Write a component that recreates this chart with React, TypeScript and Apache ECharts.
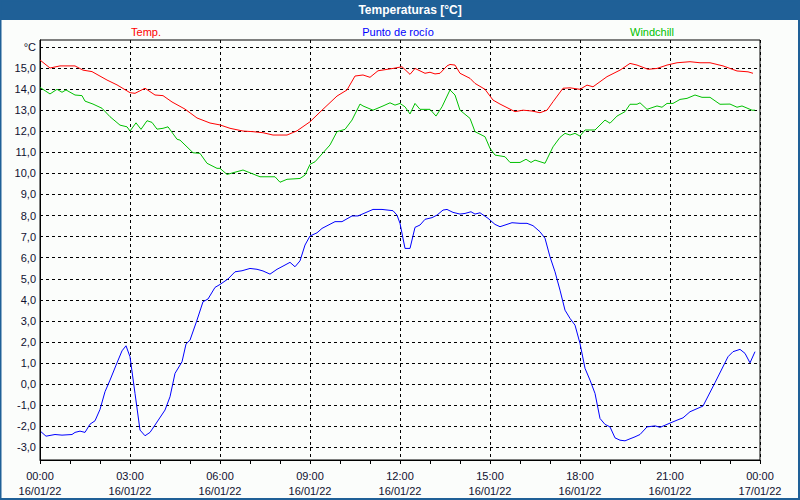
import React, { useEffect, useRef } from "react";
import * as echarts from "echarts";

// Minutes since 16/01/22 00:00 and values (°C)
const tempMinutes = [0, 20, 40, 70, 86, 104, 134, 154, 180, 190, 210, 230, 246, 264, 290, 314, 340, 360, 380, 406, 426, 446, 466, 494, 514, 540, 564, 594, 614, 630, 646, 660, 676, 706, 724, 740, 750, 770, 780, 790, 800, 814, 820, 830, 840, 860, 870, 890, 906, 920, 950, 966, 984, 1000, 1014, 1026, 1046, 1060, 1080, 1094, 1106, 1134, 1160, 1180, 1194, 1216, 1234, 1254, 1274, 1300, 1320, 1340, 1366, 1394, 1416, 1426];
const tempValues = [15.38, 15.0, 15.1, 15.1, 14.9, 14.83, 14.43, 14.2, 13.83, 13.8, 14.04, 13.72, 13.69, 13.39, 13.05, 12.63, 12.39, 12.3, 12.14, 12.01, 11.98, 11.93, 11.82, 11.82, 12.02, 12.45, 13.0, 13.67, 13.96, 14.62, 14.67, 14.56, 14.87, 14.98, 15.06, 14.7, 14.98, 14.75, 14.8, 14.72, 14.75, 15.1, 15.17, 15.14, 14.75, 14.51, 14.27, 13.99, 13.48, 13.29, 12.93, 13.0, 12.96, 12.88, 13.0, 13.4, 14.04, 14.06, 13.99, 14.19, 14.11, 14.59, 14.9, 15.22, 15.14, 14.94, 14.98, 15.14, 15.25, 15.3, 15.25, 15.25, 15.1, 14.86, 14.82, 14.75];

const chillMinutes = [0, 20, 34, 44, 52, 70, 84, 90, 106, 124, 140, 160, 174, 180, 192, 202, 214, 224, 234, 246, 256, 274, 280, 306, 320, 334, 354, 360, 374, 386, 406, 440, 470, 480, 494, 520, 530, 540, 550, 580, 594, 610, 624, 640, 646, 666, 686, 700, 710, 720, 730, 740, 750, 760, 780, 792, 804, 820, 830, 840, 860, 870, 890, 900, 910, 930, 940, 960, 972, 982, 990, 1010, 1026, 1040, 1050, 1060, 1070, 1080, 1090, 1110, 1130, 1140, 1154, 1170, 1180, 1194, 1200, 1214, 1234, 1244, 1254, 1266, 1280, 1294, 1310, 1324, 1340, 1360, 1380, 1394, 1404, 1424, 1430];
const chillValues = [14.08, 13.77, 13.99, 13.85, 13.96, 13.72, 13.69, 13.43, 13.29, 13.09, 12.69, 12.29, 12.21, 12.01, 12.4, 12.09, 12.5, 12.42, 12.1, 12.14, 12.21, 11.62, 11.58, 10.98, 10.95, 10.48, 10.24, 10.24, 9.95, 10.03, 10.16, 9.84, 9.84, 9.58, 9.72, 9.76, 9.92, 10.43, 10.55, 11.35, 11.98, 12.09, 12.53, 13.29, 13.2, 13.0, 13.2, 13.35, 13.24, 13.32, 13.16, 12.82, 13.32, 13.04, 13.04, 12.72, 13.16, 13.96, 13.72, 13.0, 12.61, 11.98, 11.74, 11.19, 10.87, 10.79, 10.52, 10.52, 10.67, 10.52, 10.63, 10.48, 11.26, 11.71, 11.9, 11.82, 11.9, 11.77, 12.06, 12.06, 12.53, 12.38, 12.72, 12.93, 13.28, 13.28, 13.35, 13.04, 13.2, 13.14, 13.32, 13.32, 13.51, 13.56, 13.72, 13.61, 13.61, 13.28, 13.29, 13.14, 13.2, 13.0, 13.0];

const dewMinutes = [2, 12, 30, 44, 64, 70, 80, 90, 100, 110, 120, 130, 140, 154, 164, 172, 180, 190, 200, 210, 220, 230, 250, 260, 270, 284, 292, 300, 314, 326, 336, 350, 360, 376, 390, 404, 420, 434, 446, 460, 474, 486, 500, 510, 520, 530, 540, 554, 564, 590, 604, 624, 636, 666, 684, 706, 714, 720, 730, 740, 750, 760, 770, 784, 794, 806, 814, 826, 840, 850, 862, 870, 880, 896, 910, 920, 944, 960, 974, 986, 1000, 1010, 1020, 1030, 1040, 1050, 1060, 1070, 1080, 1090, 1100, 1110, 1120, 1130, 1140, 1150, 1160, 1170, 1190, 1200, 1214, 1230, 1240, 1254, 1274, 1286, 1300, 1326, 1350, 1376, 1386, 1400, 1410, 1420, 1430];
const dewValues = [-2.26, -2.47, -2.39, -2.42, -2.39, -2.29, -2.23, -2.29, -1.9, -1.74, -1.2, -0.36, 0.19, 1.01, 1.58, 1.82, 1.3, -0.44, -2.18, -2.45, -2.29, -1.94, -1.23, -0.6, 0.51, 1.06, 1.9, 2.09, 3.04, 3.91, 4.04, 4.59, 4.73, 4.99, 5.33, 5.38, 5.49, 5.45, 5.37, 5.22, 5.45, 5.6, 5.78, 5.57, 5.85, 6.6, 7.03, 7.18, 7.39, 7.71, 7.71, 7.98, 7.98, 8.29, 8.29, 8.23, 8.02, 7.63, 6.44, 6.44, 7.44, 7.55, 7.82, 7.9, 8.02, 8.26, 8.29, 8.15, 8.07, 8.1, 8.18, 8.07, 8.13, 7.87, 7.58, 7.47, 7.66, 7.63, 7.63, 7.52, 7.23, 6.92, 6.04, 5.33, 4.46, 3.51, 3.12, 2.8, 1.93, 0.75, 0.19, -0.44, -1.63, -1.91, -2.03, -2.55, -2.66, -2.69, -2.5, -2.39, -2.03, -1.98, -2.05, -1.91, -1.71, -1.6, -1.31, -1.04, 0.07, 1.3, 1.54, 1.65, 1.46, 1.01, 1.54];

const yTicks = [-3, -2, -1, 0, 1, 2, 3, 4, 5, 6, 7, 8, 9, 10, 11, 12, 13, 14, 15, 16];
const seriesNames = ["Temp.", "Punto de rocío", "Windchill"];
const seriesColors = ["#ff0000", "#0000ff", "#00c000"];
const titleText = "Temperaturas [°C]";

const pad = (n: number) => (n < 10 ? "0" + n : "" + n);

export default function App() {
  const ref = useRef<HTMLDivElement>(null);
  useEffect(() => {
    if (!ref.current) return;
    const chart = echarts.init(ref.current, undefined, { renderer: "svg" });
    const font = "Liberation Sans";
    const zip = (t: number[], v: number[]) => t.map((m, i) => [m, v[i]]);
    chart.setOption({
      animation: false,
      backgroundColor: "#fbfdfb",
      textStyle: { fontFamily: font },
      grid: {
        left: 40,
        right: 40,
        top: 40,
        bottom: 40,
        show: true,
        borderColor: "#000",
        borderWidth: 1,
        backgroundColor: "transparent",
      },
      graphic: [
        {
          type: "rect",
          shape: { x: 0, y: 0, width: 800, height: 20 },
          style: { fill: "#1f6097" },
          silent: true,
        },
        {
          type: "rect",
          shape: { x: 0.5, y: 0.5, width: 798.5, height: 498.5 },
          style: { fill: "none", stroke: "#1f6097", lineWidth: 2 },
          silent: true,
        },
        {
          type: "text",
          x: 410,
          y: 10,
          style: {
            text: titleText,
            fill: "#ffffff",
            font: `bold 12px "${font}"`,
            textAlign: "center",
            textVerticalAlign: "middle",
          },
        },
        ...seriesNames.map((name, i) => ({
          type: "text",
          x: [146, 398, 652][i],
          y: 32,
          style: {
            text: name,
            fill: seriesColors[i],
            font: `11px "${font}"`,
            textAlign: "center",
            textVerticalAlign: "middle",
          },
        })),
      ],
      xAxis: {
        type: "value",
        min: 0,
        max: 1440,
        interval: 180,
        axisLine: { show: true, onZero: false, lineStyle: { color: "#000", width: 1 } },
        axisTick: { show: true, length: 4, lineStyle: { color: "#000" } },
        minorTick: { show: true, splitNumber: 3, length: 4, lineStyle: { color: "#000" } },
        splitLine: { show: true, lineStyle: { color: "#000", type: [3, 3], width: 1 } },
        axisLabel: {
          color: "#101030",
          fontSize: 11,
          fontFamily: font,
          lineHeight: 15,
          margin: 8,
          formatter: (v: number) => {
            const h = Math.floor(v / 60) % 24;
            const m = v % 60;
            const day = v >= 1440 ? 17 : 16;
            return `${pad(h)}:${pad(m)}\n${day}/01/22`;
          },
        },
      },
      yAxis: {
        type: "value",
        min: -3.6,
        max: 16.33,
        axisLine: { show: true, onZero: false, lineStyle: { color: "#000", width: 1 } },
        axisTick: { show: false, customValues: yTicks },
        splitLine: { show: true, lineStyle: { color: "#000", type: [3, 3], width: 1 } },
        axisLabel: {
          customValues: yTicks,
          color: "#101030",
          fontSize: 11,
          fontFamily: font,
          margin: 4,
          formatter: (v: number) => (Math.round(v) === 16 ? "°C" : v.toFixed(1).replace(".", ",")),
        },
      },
      series: [
        {
          name: seriesNames[2],
          type: "line",
          data: zip(chillMinutes, chillValues),
          showSymbol: false,
          lineStyle: { color: seriesColors[2], width: 1 },
          itemStyle: { color: seriesColors[2] },
        },
        {
          name: seriesNames[0],
          type: "line",
          data: zip(tempMinutes, tempValues),
          showSymbol: false,
          lineStyle: { color: seriesColors[0], width: 1 },
          itemStyle: { color: seriesColors[0] },
        },
        {
          name: seriesNames[1],
          type: "line",
          data: zip(dewMinutes, dewValues),
          showSymbol: false,
          lineStyle: { color: seriesColors[1], width: 1 },
          itemStyle: { color: seriesColors[1] },
        },
      ],
    });
    return () => chart.dispose();
  }, []);
  return (
    <div
      ref={ref}
      style={{ position: "fixed", left: 0, top: 0, width: 800, height: 500 }}
    />
  );
}
